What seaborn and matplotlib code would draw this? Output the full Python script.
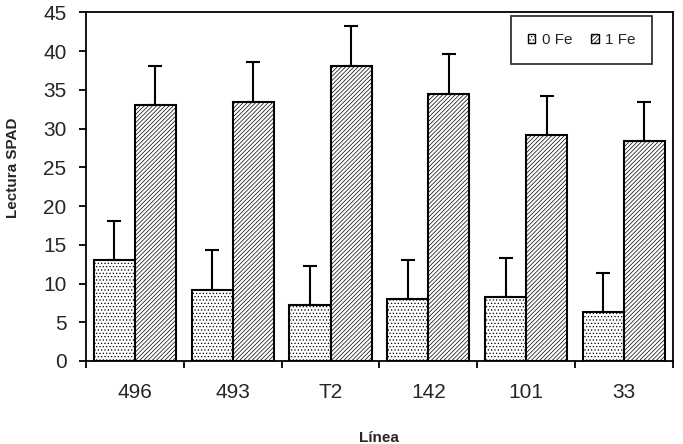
import numpy as np
import pandas as pd
import matplotlib
matplotlib.use("Agg")
import matplotlib.pyplot as plt
import seaborn as sns
from matplotlib.patches import Patch

# valores
lineas = ["496", "493", "T2", "142", "101", "33"]
fe0 = [13.0, 9.2, 7.2, 8.0, 8.2, 6.3]
fe1 = [33.0, 33.5, 38.1, 34.5, 29.2, 28.4]
err0 = [5.1, 5.1, 5.05, 5.1, 5.05, 5.1]
err1 = [5.05, 5.05, 5.1, 5.15, 5.05, 5.05]
grupos = ["0 Fe", "1 Fe"]

df = pd.DataFrame({
    "Línea": lineas * 2,
    "SPAD": fe0 + fe1,
    "err": err0 + err1,
    "trat": [grupos[0]] * 6 + [grupos[1]] * 6,
})

sns.set_style("white")
plt.rcParams["font.family"] = ["Liberation Sans", "DejaVu Sans"]
plt.rcParams["hatch.linewidth"] = 0.5

fig = plt.figure(figsize=(6.83, 4.44), dpi=100)
ax = fig.add_axes([0.126, 0.187, 0.859, 0.785])

sns.barplot(data=df, x="Línea", y="SPAD", hue="trat", order=lineas,
            hue_order=grupos, width=0.84, errorbar=None, ax=ax,
            palette=["white", "white"], edgecolor="black", linewidth=1.5,
            legend=False)

hatches = {grupos[0]: ".....", grupos[1]: "////////"}
for cont, g in zip(ax.containers, grupos):
    sub = df[df["trat"] == g]
    xs = []
    for bar in cont:
        bar.set_hatch(hatches[g])
        xs.append(bar.get_x() + bar.get_width() / 2)
    ax.errorbar(xs, sub["SPAD"].values,
                yerr=[np.zeros(len(sub)), sub["err"].values],
                fmt="none", ecolor="black", elinewidth=1.5, capsize=5,
                capthick=1.5)

ax.set_xlim(-0.5, 5.5)
ax.set_ylim(0, 45)
ax.set_yticks(range(0, 46, 5))
ax.set_xticks(range(6))
ax.set_xticklabels(lineas)
ax.set_xticks(np.arange(-0.5, 6, 1), minor=True)
ax.tick_params(axis="x", which="major", length=0, pad=16, labelsize=15)
ax.tick_params(axis="x", which="minor", length=5, width=1.3,
               direction="out", bottom=True, color="black")
ax.tick_params(axis="y", length=5, width=1.3, direction="out", left=True,
               labelsize=15, pad=9, color="black")

for s in ax.spines.values():
    s.set_color("black")
    s.set_linewidth(1.3)

ax.set_xlabel("Línea", fontsize=11, fontweight="bold")
ax.set_ylabel("Lectura SPAD", fontsize=11, fontweight="bold")
ax.xaxis.set_label_coords(0.5, -0.2)
ax.yaxis.set_label_coords(-0.112, 0.554)

handles = [Patch(facecolor="white", edgecolor="black", hatch=hatches[g],
                 linewidth=1, label=g) for g in grupos]
leg = ax.legend(handles=handles, loc="upper right",
                bbox_to_anchor=(0.965, 0.99), ncol=2, fontsize=11,
                frameon=True, fancybox=False, handlelength=0.5,
                handleheight=0.5, handletextpad=0.4, columnspacing=1.25,
                borderpad=1.1, borderaxespad=0.0)
leg.get_frame().set_edgecolor("black")
leg.get_frame().set_linewidth(1.3)

fig.savefig("out.png", dpi=100)
